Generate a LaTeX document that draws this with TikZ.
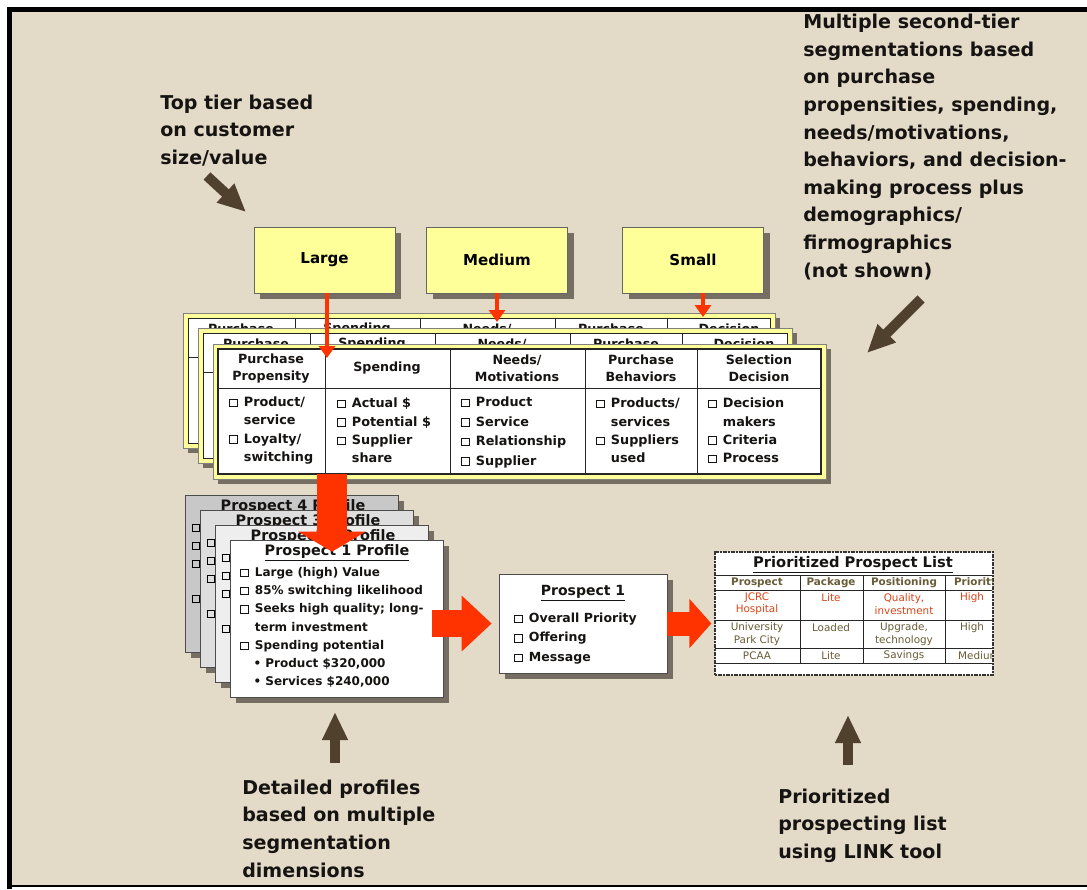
\documentclass[tikz,border=0pt]{standalone}
\usepackage{fontspec}
\setmainfont{DejaVu Sans}
\usetikzlibrary{arrows.meta,shadows}
\definecolor{bg}{RGB}{228,218,200}
\definecolor{yel}{RGB}{255,255,153}
\definecolor{shd}{RGB}{118,110,98}
\definecolor{redA}{RGB}{255,51,0}
\definecolor{brownA}{RGB}{80,64,46}
\definecolor{txt}{RGB}{22,20,18}
\definecolor{olive}{RGB}{105,92,55}
\definecolor{rowred}{RGB}{215,70,25}
\definecolor{pg4}{RGB}{200,200,200}
\definecolor{pg3}{RGB}{222,222,222}
\definecolor{pg2}{RGB}{238,238,238}
\newcommand\cbx{\makebox[11pt][l]{\raisebox{0.3pt}{\setlength{\fboxsep}{0pt}\setlength{\fboxrule}{0.6pt}\fbox{\rule{0pt}{5pt}\rule{5pt}{0pt}}}}}
\newcommand\ind{\hspace*{11pt}}
\begin{document}
\begin{tikzpicture}[x=0.75pt,y=-0.75pt,
  anno/.style={align=left, inner sep=0pt, text=txt, font=\fontsize{14.3}{20.7}\selectfont\bfseries},
  ybox/.style={draw=black!60, line width=0.5pt, fill=yel, minimum width=105.75pt, minimum height=49.5pt,
     font=\fontsize{11.3}{12}\selectfont\bfseries,
     drop shadow={shadow xshift=4.5pt, shadow yshift=-4.5pt, fill=shd, opacity=1}},
  hdr/.style={align=center, inner sep=0pt, text=txt, font=\fontsize{9.5}{12.75}\selectfont\bfseries},
  body/.style={align=left, inner sep=0pt, text=txt, font=\fontsize{9.6}{13.7}\selectfont\bfseries},
  page/.style={draw=black!70, line width=0.5pt, minimum width=159.75pt, minimum height=117.75pt, inner sep=0pt,
     drop shadow={shadow xshift=4.5pt, shadow yshift=-4.5pt, fill=shd, opacity=1}},
  lt/.style={inner sep=0pt, font=\fontsize{7.8}{9.2}\selectfont, align=center},
  redarrow/.style={draw=redA, line width=3.6pt, -{Triangle[length=9pt,width=12pt]}},
  blockarrow/.style={draw=redA},
  brownarrow/.style={draw=brownA, line width=7.5pt, -{Triangle[length=21pt,width=18pt]}},
  tline/.style={draw=black!85, line width=0.7pt}
]
\useasboundingbox (0,0) rectangle (1087,889);
% frame
\fill[white] (0,0) rectangle (1087,889);
\fill[bg] (12,12) rectangle (1087,886);
\fill[black] (7,7) rectangle (1087,12);
\fill[black] (7,7) rectangle (12,889);
\draw[black, line width=1.1pt] (7,886) -- (1087,886);

% annotations
\node[anno, anchor=west] (toptxt) at (160,130.5) {Top tier based\\on customer\\size/value};
\node[anno, anchor=west] (righttxt) at (803,147) {Multiple second-tier\\segmentations based\\on purchase\\propensities, spending,\\needs/motivations,\\behaviors, and decision-\\making process plus\\demographics/\\firmographics\\(not shown)};
\node[anno, anchor=west] (botleft) at (242,828.5) {Detailed profiles\\based on multiple\\segmentation\\dimensions};
\node[anno, anchor=west] (botright) at (778,825.5) {Prioritized\\prospecting list\\using LINK tool};

% top tier boxes
\node[ybox] (large) at (324.5,260) {Large};
\node[ybox] (medium) at (497,260) {Medium};
\node[ybox] (small) at (693,260) {Small};

% ---- segmentation table stack ----
% back layer
\fill[shd] (188,318) rectangle (780,453);
\filldraw[fill=yel, draw=black!50, line width=0.4pt] (183,313) rectangle (775,448);
\filldraw[fill=white, draw=black!85, line width=0.7pt] (188,318) rectangle (770,443);
\draw[tline] (188,357) -- (770,357);
\foreach \xx in {295,420,555,667} \draw[tline] (\xx,318) -- (\xx,443);
\foreach \xx/\tt in {241/Purchase,357/Spending,487/Needs\slash,611/Purchase,729/Decision}
  \node[hdr] at (\xx,329) {\tt};
% middle layer
\fill[shd] (203,333) rectangle (797,468);
\filldraw[fill=yel, draw=black!50, line width=0.4pt] (198,328) rectangle (792,463);
\filldraw[fill=white, draw=black!85, line width=0.7pt] (203,333) rectangle (787,458);
\draw[tline] (203,372) -- (787,372);
\foreach \xx in {310,435,570,682} \draw[tline] (\xx,333) -- (\xx,458);
\foreach \xx/\tt in {256/Purchase,372/Spending,502/Needs\slash,626/Purchase,744/Decision}
  \node[hdr] at (\xx,344) {\tt};
% front layer
\fill[shd] (218,349) rectangle (831,484);
\node[fill=yel, draw=black!50, line width=0.4pt, minimum width=459.75pt, minimum height=101.25pt, inner sep=0pt] (seg) at (519.5,411.5) {};
\filldraw[fill=white, draw=black!85, line width=0.8pt] (218,349) rectangle (821,474);
\draw[tline] (218,388) -- (821,388);
\foreach \xx in {325,450,585,697} \draw[tline] (\xx,349) -- (\xx,474);
\node[hdr] (h1) at (271,368.5) {Purchase\\Propensity};
\node[hdr] (h2) at (387,368) {Spending};
\node[hdr] (h3) at (517,368.5) {Needs/\\Motivations};
\node[hdr] (h4) at (641,368.5) {Purchase\\Behaviors};
\node[hdr] (h5) at (759,368.5) {Selection\\Decision};
\node[body, anchor=west] (b1) at (229,430.5) {\cbx Product/\\\ind service\\\cbx Loyalty/\\\ind switching};
\node[body, anchor=west] (b2) at (337,430.5) {\cbx Actual \$\\\cbx Potential \$\\\cbx Supplier\\\ind share};
\node[body, anchor=west, font=\fontsize{9.6}{14.6}\selectfont\bfseries] (b3) at (461,432.5) {\cbx Product\\\cbx Service\\\cbx Relationship\\\cbx Supplier};
\node[body, anchor=west] (b4) at (596,430.5) {\cbx Products/\\\ind services\\\cbx Suppliers\\\ind used};
\node[body, anchor=west] (b5) at (708,430.5) {\cbx Decision\\\ind makers\\\cbx Criteria\\\cbx Process};

% ---- profile stack ----
\node[page, fill=pg4] (prof4) at (291.5,573.5) {};
\node[hdr, font=\fontsize{10.8}{12}\selectfont\bfseries] (t4) at (293,507) {Prospect 4 Profile};
\foreach \yy in {528,546,564,599} \node[inner sep=0pt] at (199,\yy) {\cbx};
\node[page, fill=pg3] (prof3) at (306.5,588.5) {};
\node[hdr, font=\fontsize{10.8}{12}\selectfont\bfseries] (t3) at (308,522) {Prospect 3 Profile};
\foreach \yy in {543,561,579,614} \node[inner sep=0pt] at (214,\yy) {\cbx};
\node[page, fill=pg2] (prof2) at (321.5,603.5) {};
\node[hdr, font=\fontsize{10.8}{12}\selectfont\bfseries] (t2) at (323,537) {Prospect 2 Profile};
\foreach \yy in {558,576,594,629} \node[inner sep=0pt] at (229,\yy) {\cbx};
\node[page, fill=white] (prof1) at (336.5,618.5) {};
\node[hdr, font=\fontsize{10.8}{12}\selectfont\bfseries] (t1) at (337,553) {\underline{Prospect 1 Profile}};
\node[body, anchor=west, font=\fontsize{9}{13.65}\selectfont\bfseries] (pitems) at (240,627.5)
  {\cbx Large (high) Value\\\cbx 85\% switching likelihood\\\cbx Seeks high quality; long-\\\ind term investment\\\cbx Spending potential\\\hspace*{10pt}\textbullet\ Product \$320,000\\\hspace*{10pt}\textbullet\ Services \$240,000};

% ---- prospect 1 box ----
\node[page, fill=white, minimum width=126pt, minimum height=74.25pt] (pbox) at (583,623.5) {};
\node[hdr, font=\fontsize{10.5}{13}\selectfont\bfseries] (pt) at (583,593) {\underline{Prospect 1}};
\node[body, anchor=west, font=\fontsize{9.4}{14.6}\selectfont\bfseries] (pbi) at (514,638.5) {\cbx Overall Priority\\\cbx Offering\\\cbx Message};

% ---- prioritized list ----
\node[fill=white, draw=black!80, line width=0.9pt, dashed, dash pattern=on 1.5pt off 0.5pt, minimum width=208.5pt, minimum height=92.25pt, inner sep=0pt] (plist) at (854,613.5) {};
\begin{scope}
\clip (715,552) rectangle (992,675);
\node[hdr, font=\fontsize{11}{12}\selectfont\bfseries] (lt) at (853,565) {\underline{Prioritized Prospect List}};
\foreach \yy in {575,590,620,648,663} \draw[tline] (715,\yy) -- (993,\yy);
\foreach \xx in {800,863,945} \draw[tline] (\xx,575) -- (\xx,663);
\node[lt, text=olive, font=\fontsize{7.8}{9}\selectfont\bfseries] at (757,583) {Prospect};
\node[lt, text=olive, font=\fontsize{7.8}{9}\selectfont\bfseries] at (831,583) {Package};
\node[lt, text=olive, font=\fontsize{7.8}{9}\selectfont\bfseries] at (904,583) {Positioning};
\node[lt, text=olive, font=\fontsize{7.8}{9}\selectfont\bfseries] at (976,583) {Priority};
\node[lt, text=rowred] at (757,604) {JCRC\\Hospital};
\node[lt, text=rowred] at (831,598) {Lite};
\node[lt, text=rowred] at (904,604) {Quality,\\investment};
\node[lt, text=rowred] at (972,598) {High};
\node[lt, text=olive] at (757,634) {University\\Park City};
\node[lt, text=olive] at (831,628) {Loaded};
\node[lt, text=olive] at (904,634) {Upgrade,\\technology};
\node[lt, text=olive] at (972,628) {High};
\node[lt, text=olive] at (757,656) {PCAA};
\node[lt, text=olive] at (831,656) {Lite};
\node[lt, text=olive] at (904,656) {Savings};
\node[lt, text=olive] at (979,656) {Medium};
\end{scope}

% ---- red arrows ----
\coordinate (la) at (327,358);
\coordinate (ma) at (497,322);
\coordinate (sa) at (703,317);
\draw[redarrow] (large.south -| la) -- (la);
\draw[redarrow] (medium.south -| ma) -- (ma);
\draw[redarrow] (small.south -| sa) -- (sa);
\coordinate (dtop) at (332,474);
\draw[blockarrow, line width=22.5pt, -{Triangle[length=15pt,width=50pt]}, shorten >=-9pt] (dtop) -- (dtop |- prof1.north);
\draw[blockarrow, line width=20pt, -{Triangle[length=22.5pt,width=40.5pt]}, shorten <=-8.25pt, shorten >=5.25pt] (prof1.east |- pbox.west) -- (pbox.west);
\draw[blockarrow, line width=18pt, -{Triangle[length=16.5pt,width=36pt]}, shorten >=2.25pt] (pbox.east) -- (pbox.east -| plist.west);

% ---- brown arrows ----
\coordinate (a1s) at (207,176); \coordinate (a1e) at (246,212);
\coordinate (a2s) at (921,299); \coordinate (a2e) at (867,353);
\coordinate (a3s) at (335,763); \coordinate (a3e) at (335,712);
\coordinate (a4s) at (848,765); \coordinate (a4e) at (848,715);
\draw[brownarrow] (a1s) -- (a1e);
\draw[brownarrow] (a2s) -- (a2e);
\draw[brownarrow] (a3s) -- (a3e);
\draw[brownarrow] (a4s) -- (a4e);
\end{tikzpicture}
\end{document}
